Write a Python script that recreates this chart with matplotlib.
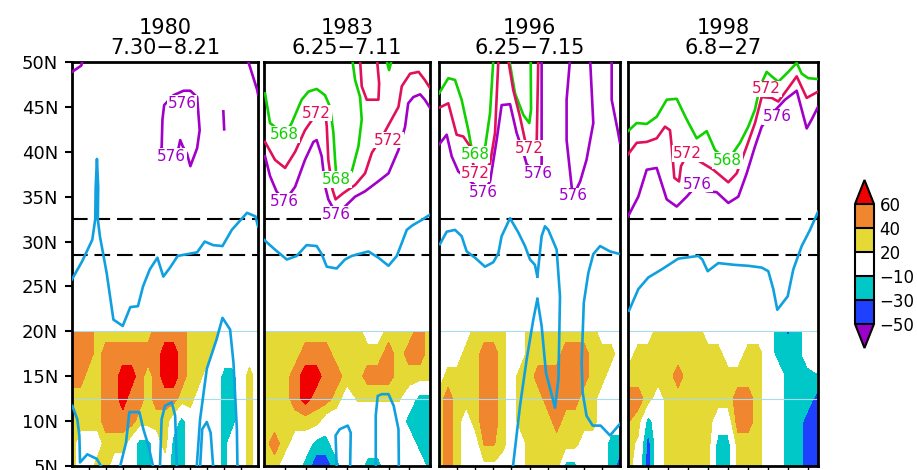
import numpy as np
import matplotlib.pyplot as plt

plt.rcParams['font.family'] = ['DejaVu Sans']

# ---- data ----
titles = ["1980\n7.30\u22128.21", "1983\n6.25\u22127.11", "1996\n6.25\u22127.15", "1998\n6.8\u221227"]
ndays = [23, 17, 21, 20]
lat_rows = [20, 17.5, 15, 12.5, 10, 7.5, 5]
levels = [-50, -30, -10, 20, 40, 60]
ridge_lats = [32.5, 28.5]

# shaded field, rows = lat_rows, columns = days
field_1980 = [
    [50, 50, 50, 30, 30, 30, 30, 30, 30, 30, 50, 50, 50, 50, 30, 30, 30, 30, 5, 5, 5, 5, 5],
    [50, 50, 50, 30, 50, 50, 50, 50, 50, 50, 50, 70, 70, 50, 30, 30, 30, 5, 5, 5, 5, 5, 5],
    [50, 50, 30, 30, 50, 50, 70, 70, 50, 30, 50, 70, 70, 50, 30, 30, 5, 5, -20, -20, 5, 30, 5],
    [30, 30, 30, 30, 50, 50, 70, 50, 50, 30, 50, 50, 50, 30, 30, 5, 5, 5, -20, -20, 5, 30, 5],
    [30, 30, 30, 30, 50, 50, 50, 50, 30, 30, 30, 30, 5, -20, 5, 5, 5, 5, -20, -20, 5, 30, 5],
    [30, 5, 5, 5, 30, 30, 30, 5, -20, -20, 5, 30, -20, -20, 5, 5, 5, 5, -20, 5, 5, 30, 5],
    [30, 5, 5, 30, 30, 5, 5, 5, -20, -20, 5, 5, -20, -20, 5, 5, 5, 5, -20, 5, 5, 30, 5],
]
field_1983 = [
    [30, 30, 30, 30, 30, 30, 30, 30, 30, 30, 5, 5, 30, 30, 30, 50, 30],
    [30, 30, 30, 30, 50, 50, 50, 30, 30, 30, 30, 30, 50, 30, 50, 50, 30],
    [30, 30, 30, 50, 70, 70, 50, 50, 30, 30, 50, 50, 50, 30, 30, 30, 30],
    [30, 30, 30, 50, 70, 50, 50, 30, 5, 22, 22, 22, 22, 22, 5, -20, -20],
    [30, 30, 30, 30, 30, 30, 5, 5, 5, 5, 5, 5, 5, 5, -20, -20, -20],
    [30, 50, 30, 5, 5, -20, -20, 5, 5, 5, 5, 5, 5, 5, 5, -20, -20],
    [30, 30, 5, 5, -20, -40, -40, -20, 5, 5, -20, -20, 5, 5, 5, 5, -20],
]
field_1996 = [
    [5, 5, 5, 5, 30, 30, 30, 30, 5, 5, 30, 30, 30, 30, 30, 30, 30, 30, 5, 5, 5],
    [5, 5, 5, 30, 30, 50, 50, 30, 5, 5, 30, 30, 30, 30, 50, 50, 50, 30, 30, 30, 5],
    [5, 30, 30, 30, 30, 50, 50, 30, 5, 30, 30, 50, 50, 50, 50, 50, 50, 30, 30, 5, 5],
    [30, 50, 30, 30, 30, 50, 50, 30, 5, 30, 30, 30, 50, 50, 50, 50, 30, 30, 5, 5, 5],
    [30, 50, 30, 5, 30, 50, 50, 30, 5, 30, 30, 30, 30, 50, 30, 30, 30, 30, 5, 5, 5],
    [30, 50, 30, 5, 5, 42, 42, 30, 5, 5, 30, 30, 30, 30, 30, 30, 5, 5, 5, -20, -20],
    [30, 50, 30, 5, 5, 15, 15, 5, 5, 5, 30, 30, 30, 30, -20, -20, 5, 5, 5, -20, -40],
]
field_1998 = [
    [5, 5, 5, 30, 30, 30, 30, 30, 5, 5, 5, 5, 5, 5, 5, -20, -33, -20, 5, 5],
    [5, 30, 30, 30, 30, 30, 30, 30, 30, 30, 5, 5, 30, 30, 5, -20, -20, -20, 5, 5],
    [30, 30, 30, 30, 30, 50, 30, 30, 30, 30, 30, 30, 30, 30, 5, 5, -20, -20, -20, -12],
    [50, 50, 30, 5, 30, 30, 30, 30, 30, 30, 30, 50, 50, 30, 5, 5, -20, -20, -20, -40],
    [42, 30, -20, 5, 30, 30, 30, 30, 30, 5, 5, 50, 50, 30, 5, 5, -20, -20, -40, -40],
    [30, 15, -40, 5, 30, 30, 30, 30, 30, -20, -20, 30, 30, 30, 5, 5, -20, -20, -40, -40],
    [30, 5, -40, 5, 30, 30, 30, 30, 30, -20, -20, 30, 30, 30, 5, 5, -20, -20, -40, -40],
]

# (day, lat) points of the height contours and blue curves
c1980_576a = [(0, 48.9), (1.1, 49.6), (1.25, 50.2)]
c1980_576b = [(20.8, 50.2), (21.9, 46.9), (22, 46.4)]
c1980_576c = [(10.6, 40.4), (10.7, 43.6), (10.9, 45.2), (12.0, 46.3), (13.2, 46.8), (14.0, 46.8),
              (14.8, 46.1), (15.1, 42.4), (14.8, 40.4), (14.0, 38.4), (13.6, 39.8), (13.1, 40.6),
              (12.8, 41.3), (12.6, 40.4), (11.8, 39.6), (10.6, 40.4)]
c1980_576d = [(17.9, 44.5), (18.0, 42.5)]
b1980_top = [(0, 25.8), (1.2, 27.8), (2.4, 30.2), (2.75, 32.5), (2.8, 36), (2.95, 39.2), (3.1, 36),
             (3.05, 32.5), (3.3, 30.6), (4.1, 26.5), (4.9, 21.3), (6.0, 20.6), (6.9, 22.7),
             (7.8, 22.8), (8.4, 25), (9.2, 26.9), (10.1, 28.2), (10.8, 26.1), (11.6, 27.1),
             (12.5, 28.4), (14.8, 28.8), (15.7, 30), (16.7, 29.6), (17.8, 29.5), (18.9, 31.3),
             (20.7, 33.2), (21.7, 32.8), (22, 31.7)]
b1980_l1 = [(0.04, 11.7), (0.63, 10.2), (0.87, 8.4), (0.95, 5.4), (1.81, 6.3), (2.92, 5.8), (3.5, 4.9)]
b1980_l2 = [(5.68, 4.9), (6.39, 7.6), (6.78, 11.0), (7.97, 11.0), (8.44, 9.1), (9.03, 7.3), (9.6, 4.9)]
b1980_l3 = [(10.4, 4.9), (10.6, 10.2), (11.0, 11.7), (11.8, 12.1), (12.2, 10.6), (12.4, 4.9)]
b1980_l4 = [(14.75, 4.9), (15.15, 10.2), (15.94, 15.8), (17.1, 19.1), (17.8, 21.5), (18.7, 20.2),
            (19.1, 16.5), (19.5, 9.1), (19.57, 4.9)]
b1980_l5 = [(15.15, 4.9), (15.4, 9.1), (15.94, 9.9), (16.4, 8.7), (16.7, 4.9)]

c1983_568a = [(0.1, 46.5), (0.58, 43.2), (2.0, 41.9), (2.67, 43.2), (3.63, 45.8), (4.28, 46.7),
              (5.08, 47.0), (5.88, 46.3), (6.37, 45.0), (6.69, 42.1), (6.85, 39.1), (7.0, 36.9),
              (8.46, 37.8), (9.1, 40.6), (9.42, 43.6), (9.26, 46.1), (8.78, 48.0), (8.52, 50.2)]
c1983_568b = [(11.8, 50.2), (12.06, 49.1), (12.3, 50.2)]
c1983_572a = [(0.1, 41.1), (1.06, 39.1), (2.03, 38.2), (3.0, 40.0), (3.95, 42.4), (5.08, 44.3),
              (5.9, 44.5), (6.05, 42.8), (6.2, 39.1), (6.6, 35.8), (6.9, 34.7), (7.65, 35.4),
              (8.78, 36.3), (9.74, 37.6), (10.4, 39.9), (11.3, 41.5), (12.96, 45.0), (13.28, 47.3),
              (14.08, 48.7), (14.9, 48.9), (15.5, 48.0), (16.0, 47.1)]
c1983_572b = [(9.26, 50.2), (9.42, 47.3), (9.9, 45.8), (11.03, 45.8), (11.1, 47.6), (10.9, 50.2)]
c1983_576 = [(0.1, 39.5), (0.58, 37.3), (1.2, 35.6), (2.0, 34.5), (3.0, 36.1), (3.95, 39.1),
             (4.76, 41.1), (5.08, 41.3), (5.56, 39.5), (5.9, 36.1), (6.2, 34.7), (7.0, 33.0),
             (7.8, 33.9), (8.78, 35.0), (9.74, 35.6), (11.0, 36.7), (12.0, 37.6), (12.96, 40.2),
             (13.6, 42.8), (13.9, 45.4), (14.4, 46.1), (15.05, 46.4), (15.5, 45.8), (16.0, 44.9)]
b1983_top = [(0, 30.2), (1.06, 29.1), (2.2, 28.0), (3.15, 28.4), (4.1, 29.6), (5.08, 29.5),
             (5.56, 28.6), (6.05, 27.2), (7.0, 27.0), (7.8, 28.0), (8.46, 28.4), (10.06, 28.9),
             (11.03, 28.2), (12.0, 27.3), (12.8, 28.4), (13.3, 29.9), (13.76, 31.3), (14.3, 31.8),
             (15.2, 32.4), (16.0, 33.0)]
b1983_l1 = [(7.0, 4.9), (6.9, 8.4), (7.3, 9.1), (8.07, 9.5), (8.36, 8.7), (8.3, 4.9)]
b1983_l2 = [(10.77, 4.9), (10.77, 10.6), (10.96, 12.8), (11.35, 13.0), (12.0, 13.0), (12.5, 11.7),
            (12.96, 9.1), (13.0, 4.9)]

c1996_568a = [(0, 46.5), (1.03, 48.2), (1.77, 48.0), (2.5, 45.8), (3.24, 42.4), (3.6, 40.4),
              (4.0, 39.7), (5.08, 40.4), (5.64, 44.3), (6.0, 50.2)]
c1996_568b = [(7.77, 50.2), (8.4, 46.5), (9.32, 44.1), (9.98, 43.2), (10.17, 44.7), (10.13, 50.2)]
c1996_572a = [(0, 44.9), (1.03, 45.4), (1.95, 41.9), (2.69, 41.7), (3.43, 40.6), (3.7, 39.0),
              (4.0, 37.6), (5.0, 37.8), (5.64, 38.7), (6.19, 42.1), (6.56, 50.2)]
c1996_572b = [(7.66, 50.2), (8.2, 46.9), (8.95, 43.9), (9.5, 41.3), (10.0, 40.4), (10.8, 41.3),
              (10.97, 50.2)]
c1996_576a = [(0, 40.8), (0.85, 41.9), (1.4, 39.5), (2.14, 37.8), (3.24, 36.9), (4.9, 35.5),
              (5.64, 36.7), (6.37, 41.3), (6.92, 45.2), (7.85, 45.3), (8.58, 42.1), (9.32, 39.9),
              (9.69, 38.6), (11.0, 37.6), (11.34, 38.6), (11.34, 50.2)]
c1996_576b = [(14.47, 50.2), (14.1, 45.8), (14.1, 41.3), (14.66, 36.1), (14.84, 35.1), (15.6, 36.7),
              (16.3, 39.1), (17.05, 43.2), (16.7, 50.2)]
c1996_576c = [(19.08, 50.2), (19.08, 45.8), (19.8, 42.1), (20, 41.0)]
b1996_top = [(0.1, 29.7), (0.85, 31.1), (1.77, 31.3), (2.5, 30.6), (3.06, 28.9), (3.98, 28.2),
             (5.08, 27.2), (6.0, 27.7), (6.56, 28.7), (6.92, 30.6), (7.85, 32.6), (8.77, 31.0),
             (9.5, 29.5), (10.06, 28.0), (10.6, 27.4), (10.87, 26.1)]
b1996_a2 = [(10.87, 23.6), (10.42, 21.3), (9.69, 16.9), (8.95, 11.7), (8.2, 5.2), (8.15, 4.9)]
b1996_b = [(10.87, 23.6), (11.34, 20.6), (11.82, 15.4), (12.82, 11.5), (13.2, 14.7), (13.37, 23.9),
           (13.0, 29.1), (12.08, 31.3), (11.71, 31.7), (11.34, 30.6), (10.87, 26.1)]
b1996_c = [(20, 28.6), (18.9, 28.9), (17.8, 29.5), (17.05, 28.6), (16.5, 26.5), (16.0, 23.2),
           (15.76, 16.5), (15.87, 13.2), (16.3, 10.6), (16.98, 9.5), (17.86, 9.5), (18.9, 8.4),
           (20, 9.7)]

c1998_568 = [(0, 42.3), (0.87, 43.2), (1.87, 43.1), (2.87, 43.9), (3.87, 45.8), (4.87, 45.9),
             (5.87, 43.6), (6.87, 41.5), (7.87, 42.3), (8.7, 40.2), (9.97, 39.0), (11.2, 41.0),
             (12.03, 42.8), (12.7, 44.7), (13.2, 47.3), (13.87, 48.9), (14.37, 48.4), (15.03, 47.8),
             (16.03, 48.9), (16.87, 49.9), (17.37, 48.7), (18.03, 48.2), (19, 48.1)]
c1998_572 = [(0, 39.7), (0.87, 41.0), (1.87, 41.1), (2.87, 41.5), (3.7, 42.8), (4.2, 42.4),
             (4.37, 40.6), (4.63, 37.1), (5.1, 36.7), (5.3, 38.4), (5.97, 39.8), (7.2, 38.9),
             (8.53, 38.0), (10.03, 36.6), (10.87, 37.6), (11.87, 40.6), (12.7, 43.2), (13.37, 46.1),
             (14.37, 46.0), (15.03, 45.6), (16.03, 47.1), (16.87, 48.4), (17.87, 46.0), (19, 46.7)]
c1998_576 = [(0, 32.8), (1.03, 35.0), (1.87, 38.0), (2.87, 38.2), (3.87, 34.7), (4.87, 33.9),
             (5.87, 35.0), (6.97, 36.4), (7.87, 35.6), (8.87, 35.5), (10.03, 34.3), (11.03, 35.0),
             (11.87, 37.6), (12.7, 40.6), (13.37, 42.8), (14.2, 44.0), (15.7, 45.8), (16.87, 46.8),
             (17.87, 42.6), (18.37, 43.6), (19, 45.0)]
b1998_top = [(0.1, 22.3), (1.03, 24.7), (2.03, 26.0), (3.37, 26.9), (5.03, 28.1), (7.03, 28.4),
             (7.43, 28.0), (7.97, 26.7), (9.03, 27.6), (10.7, 27.4), (12.03, 27.3), (13.37, 27.1),
             (14.03, 26.7), (14.53, 24.7), (14.93, 22.4), (15.97, 23.9), (16.53, 26.9), (17.37, 29.5),
             (18.2, 31.3), (19, 33.3)]

labels_1980 = [("576", 13.0, 45.4), ("576", 11.8, 39.5)]
labels_1983 = [("568", 2.0, 41.9), ("572", 5.08, 44.3), ("572", 12.0, 41.3), ("568", 7.0, 36.9),
               ("576", 2.0, 34.5), ("576", 7.0, 33.0)]
labels_1996 = [("568", 4.0, 39.7), ("572", 4.0, 37.6), ("576", 4.9, 35.5), ("572", 10.0, 40.4),
               ("576", 11.0, 37.6), ("576", 14.84, 35.1)]
labels_1998 = [("572", 5.97, 39.8), ("568", 9.97, 39.0), ("576", 6.97, 36.4), ("572", 13.87, 47.0),
               ("576", 14.93, 43.9)]

# ---- styles ----
shade_colors = ['#9b00c8', '#2040ff', '#00c8c8', 'white', '#e4d935', '#f0862d', '#f00000']
line_col = {'568': '#10d000', '572': '#e0105a', '576': '#a000c8', 'blue': '#10a0e0'}

panels = [
    (field_1980, [(c1980_576a, '576'), (c1980_576b, '576'), (c1980_576c, '576'), (c1980_576d, '576'),
                  (b1980_top, 'blue'), (b1980_l1, 'blue'), (b1980_l2, 'blue'), (b1980_l3, 'blue'),
                  (b1980_l4, 'blue'), (b1980_l5, 'blue')], labels_1980),
    (field_1983, [(c1983_568a, '568'), (c1983_568b, '568'), (c1983_572a, '572'), (c1983_572b, '572'),
                  (c1983_576, '576'), (b1983_top, 'blue'), (b1983_l1, 'blue'), (b1983_l2, 'blue')],
     labels_1983),
    (field_1996, [(c1996_568a, '568'), (c1996_568b, '568'), (c1996_572a, '572'), (c1996_572b, '572'),
                  (c1996_576a, '576'), (c1996_576b, '576'), (c1996_576c, '576'),
                  (b1996_top, 'blue'), (b1996_a2, 'blue'), (b1996_b, 'blue'), (b1996_c, 'blue')],
     labels_1996),
    (field_1998, [(c1998_568, '568'), (c1998_572, '572'), (c1998_576, '576'), (b1998_top, 'blue')],
     labels_1998),
]
panel_px = [(72, 258), (264, 430), (439, 620), (628, 818)]

W, H = 917, 470
fig = plt.figure(figsize=(W / 100, H / 100), dpi=100)

cf = None
for i, (field, lines, labels) in enumerate(panels):
    l, r = panel_px[i]
    ax = fig.add_axes([l / W, 4 / H, (r - l) / W, 404 / H])
    days = np.arange(ndays[i])
    cf = ax.contourf(days, lat_rows, np.array(field), levels=levels, colors=shade_colors,
                     extend='both', zorder=1)
    for yl in [20, 12.5]:
        ax.axhline(yl, color='#a8dcec', lw=0.8, zorder=2)
    for yl in ridge_lats:
        ax.axhline(yl, color='black', lw=1.5, dashes=(7.5, 3.3), zorder=3)
    for pts, key in lines:
        xs, ys = zip(*pts)
        ax.plot(xs, ys, color=line_col[key], lw=1.9, zorder=4, solid_joinstyle='round')
    for s, x, y in labels:
        ax.text(x, y, s, color=line_col[s], fontsize=11, ha='center', va='center', zorder=6,
                bbox=dict(boxstyle='square,pad=0.05', fc='white', ec='none'))
    ax.set_xlim(0, ndays[i] - 1)
    ax.set_ylim(5, 50)
    ax.set_xticks(np.arange(2, ndays[i] - 1, 2))
    ax.set_xticklabels([])
    ax.tick_params(axis='x', direction='out', length=3, width=1)
    ax.set_yticks(np.arange(5, 51, 5))
    if i == 0:
        ax.set_yticklabels([f"{v}N" for v in range(5, 51, 5)], fontsize=13)
        ax.tick_params(axis='y', direction='out', length=5, width=1.5, pad=5)
    else:
        ax.set_yticklabels([])
        ax.tick_params(axis='y', length=0)
    for sp in ax.spines.values():
        sp.set_linewidth(2)
    ax.set_title(titles[i], fontsize=15, linespacing=0.95, pad=6)

cax = fig.add_axes([855 / W, 122 / H, 19 / W, 168 / H])
cb = fig.colorbar(cf, cax=cax, ticks=levels, drawedges=True, extendfrac=0.2)
cb.outline.set_linewidth(1.5)
cb.dividers.set_linewidth(1.5)
cb.ax.tick_params(length=0, labelsize=12, pad=4)

fig.savefig("out.png", dpi=100)
